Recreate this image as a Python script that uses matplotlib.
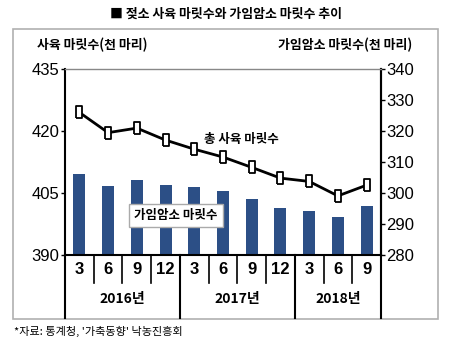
import matplotlib
matplotlib.use("Agg")
import matplotlib.pyplot as plt
from matplotlib.patches import Rectangle
from matplotlib.lines import Line2D
import matplotlib.transforms as mtransforms

plt.rcParams['font.family'] = ['Noto Sans CJK KR', 'DejaVu Sans']

months = ["3", "6", "9", "12", "3", "6", "9", "12", "3", "6", "9"]
years = ["2016년", "2017년", "2018년"]
year_counts = [4, 4, 3]
total_cows = [424.5, 419.6, 420.7, 417.8, 415.6, 413.7, 411.2, 408.6, 407.8, 404.3, 406.9]
fertile_cows = [306.0, 302.2, 304.1, 302.6, 301.8, 300.8, 298.1, 295.1, 294.3, 292.3, 295.7]
left_ticks = [390, 405, 420, 435]
right_ticks = [280, 290, 300, 310, 320, 330, 340]

W, H = 450, 356
fig = plt.figure(figsize=(W/100, H/100), dpi=100)
ax = fig.add_axes([65/W, 1-255/H, (381-65)/W, (255-69)/H])
ax2 = ax.twinx()
ax.set_zorder(ax2.get_zorder()+1)
ax.patch.set_visible(False)

x = list(range(len(months)))
bar_color = "#2c4f86"
ax2.bar(x, fertile_cows, width=0.42, color=bar_color, zorder=2)
ax2.set_ylim(280, 340)
ax2.set_yticks(right_ticks)

marker = [(-0.55, -1), (0.55, -1), (0.55, 1), (-0.55, 1), (-0.55, -1)]
ax.plot(x, total_cows, color="black", lw=2, marker=marker, ms=9,
        mfc="white", mec="black", mew=1.3, zorder=3)
ax.set_ylim(390, 435)
ax.set_yticks(left_ticks)
ax.set_xlim(-0.5, len(months)-0.5)
ax.set_xticks([])

numfam = ['Liberation Sans Narrow', 'Liberation Sans', 'DejaVu Sans']
for a in (ax, ax2):
    a.tick_params(axis='y', length=3, width=1, pad=1, color="black")
    for lab in a.get_yticklabels():
        lab.set_fontfamily(numfam)
        lab.set_fontsize(12)
for s in ("left", "right", "bottom"):
    ax.spines[s].set_linewidth(1.5)
    ax.spines[s].set_color("black")
ax2.spines["left"].set_visible(False)
ax2.spines["bottom"].set_visible(False)
ax2.spines["top"].set_visible(False)
ax2.spines["right"].set_linewidth(1.5)
ax.spines["top"].set_color("#888888")
ax.spines["top"].set_linewidth(1.0)

trans = mtransforms.blended_transform_factory(ax.transData, ax.transAxes)
row1 = -(283-255)/186
row2 = -(318-255)/186
boundaries = []
c = 0
for n in year_counts:
    c += n
    boundaries.append(c - 0.5)
for i in range(len(months)-1):
    xb = i + 0.5
    if xb in boundaries:
        continue
    ax.add_line(Line2D([xb, xb], [0, row1], transform=trans, color="black", lw=1.2, clip_on=False))
for xb in [-0.5] + boundaries:
    ax.add_line(Line2D([xb, xb], [0, row2], transform=trans, color="black", lw=1.5, clip_on=False))
for i, m in enumerate(months):
    ax.text(i, (0+row1)/2, m, transform=trans, ha="center", va="center",
            fontfamily=numfam, fontsize=12, fontweight="bold")
start = 0
for yl, n in zip(years, year_counts):
    ax.text(start + (n-1)/2, (row1+row2)/2 + 0.01, yl, transform=trans, ha="center", va="center",
            fontsize=10, fontweight="bold")
    start += n

ax.text(5.63, 418.0, "총 사육 마릿수", ha="center", va="center", fontsize=9, fontweight="bold")
ax2.text(3.36, 292.6, "가임암소 마릿수", ha="center", va="center", fontsize=9, fontweight="bold",
         bbox=dict(boxstyle="square,pad=0.4", fc="white", ec="#aaaaaa", lw=1), zorder=5)

fig.add_artist(Rectangle((13/W, 1-319/H), (438-13)/W, (319-29)/H, transform=fig.transFigure,
                         fill=False, ec="#b0b0b0", lw=1.2))

fig.text(226/W, 1-14/H, "■ 젖소 사육 마릿수와 가임암소 마릿수 추이", ha="center", va="center",
         fontsize=9.3, fontweight="bold")
fig.text(37/W, 1-45/H, "사육 마릿수(천 마리)", ha="left", va="center", fontsize=9.3, fontweight="bold")
fig.text(412/W, 1-45/H, "가임암소 마릿수(천 마리)", ha="right", va="center", fontsize=9.3, fontweight="bold")
fig.text(14/W, 1-331/H, "*자료: 통계청, '가축동향' 낙농진흥회", ha="left", va="center", fontsize=8)

fig.savefig("out.png", dpi=100)
